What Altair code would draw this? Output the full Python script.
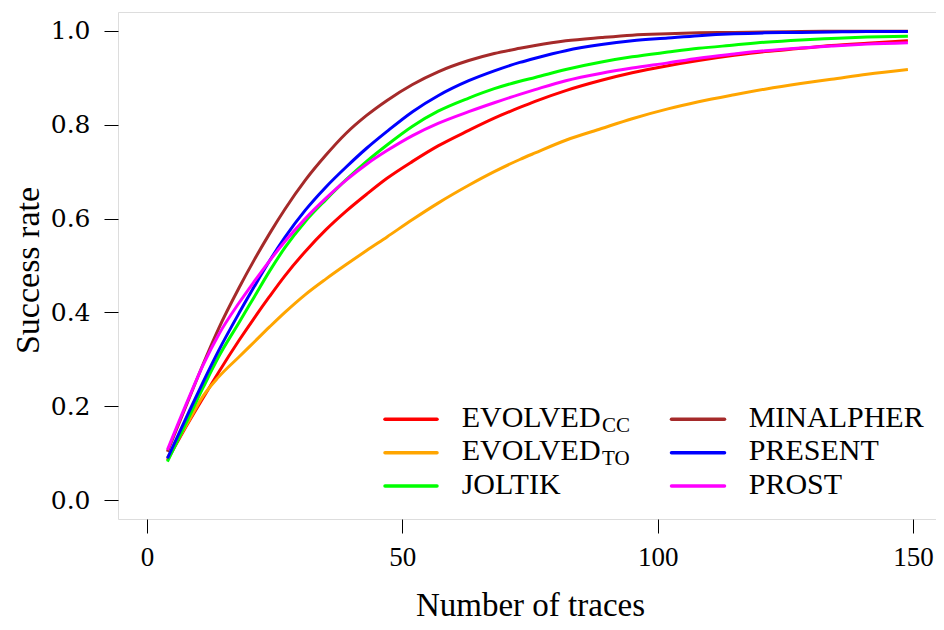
import altair as alt
import pandas as pd

# ---------------- data ----------------
traces = [4, 8, 11, 14, 18, 21, 24, 27, 31, 35, 39, 43, 47, 52, 57, 63, 68, 73,
          76, 82, 89, 95, 102, 108, 115, 121, 128, 134, 141, 149]

evolved_cc = [0.085, 0.163, 0.218, 0.272, 0.340, 0.388, 0.434, 0.478, 0.530, 0.576,
              0.616, 0.652, 0.686, 0.722, 0.755, 0.788, 0.814, 0.837, 0.850, 0.873,
              0.895, 0.911, 0.926, 0.937, 0.948, 0.956, 0.963, 0.969, 0.974, 0.979]
evolved_to = [0.090, 0.165, 0.222, 0.262, 0.305, 0.337, 0.369, 0.400, 0.438, 0.471,
              0.502, 0.532, 0.561, 0.598, 0.633, 0.671, 0.700, 0.726, 0.740, 0.767,
              0.792, 0.813, 0.834, 0.849, 0.864, 0.876, 0.888, 0.897, 0.908, 0.918]
joltik = [0.082, 0.172, 0.240, 0.305, 0.378, 0.433, 0.488, 0.538, 0.594, 0.640,
          0.683, 0.722, 0.757, 0.797, 0.829, 0.857, 0.877, 0.893, 0.901, 0.918,
          0.934, 0.945, 0.955, 0.963, 0.970, 0.976, 0.981, 0.984, 0.987, 0.989]
minalpher = [0.103, 0.210, 0.290, 0.365, 0.452, 0.512, 0.568, 0.620, 0.682, 0.735,
             0.782, 0.820, 0.852, 0.886, 0.913, 0.937, 0.952, 0.963, 0.969, 0.979,
             0.986, 0.991, 0.994, 0.996, 0.997, 0.998, 0.999, 0.9995, 0.9995, 0.9995]
present = [0.089, 0.183, 0.252, 0.318, 0.398, 0.455, 0.510, 0.560, 0.618, 0.667,
           0.710, 0.750, 0.786, 0.828, 0.862, 0.894, 0.915, 0.933, 0.942, 0.958,
           0.971, 0.979, 0.985, 0.990, 0.994, 0.996, 0.997, 0.998, 0.999, 0.999]
prost = [0.107, 0.213, 0.288, 0.352, 0.420, 0.466, 0.510, 0.551, 0.600, 0.643,
         0.682, 0.716, 0.745, 0.777, 0.803, 0.828, 0.847, 0.865, 0.875, 0.894,
         0.910, 0.921, 0.932, 0.942, 0.951, 0.958, 0.964, 0.968, 0.972, 0.975]

series_keys = ["EVOLVED_CC", "EVOLVED_TO", "JOLTIK", "MINALPHER", "PRESENT", "PROST"]
series_vals = [evolved_cc, evolved_to, joltik, minalpher, present, prost]
series_colors = ["#FF0000", "#FFA500", "#00FF00", "#A52A2A", "#0000FF", "#FF00FF"]

# legend text: main label and subscript
legend_main = ["EVOLVED", "EVOLVED", "JOLTIK", "MINALPHER", "PRESENT", "PROST"]
legend_sub = ["CC", "TO", "", "", "", ""]

x_ticks = [0, 50, 100, 150]
y_ticks = [0.0, 0.2, 0.4, 0.6, 0.8, 1.0]

rows = []
for key, vals in zip(series_keys, series_vals):
    for t, v in zip(traces, vals):
        rows.append({"series": key, "traces": t, "rate": v})
df = pd.DataFrame(rows)

# ---------------- layout ----------------
W, H = 818, 507
SERIF = "Liberation Serif"

x_scale = alt.Scale(domain=[-5.68, 154.5], nice=False, zero=False)
y_scale = alt.Scale(domain=[-0.0405, 1.0405], nice=False, zero=False)

lines = alt.Chart(df).mark_line(strokeWidth=3, interpolate="monotone", clip=True).encode(
    x=alt.X("traces:Q", scale=x_scale,
            axis=alt.Axis(values=x_ticks, format="d", title="Number of traces",
                          domain=False, ticks=True, tickSize=14, tickColor="#000",
                          tickWidth=1, labelFont=SERIF, labelFontSize=27,
                          labelColor="#000", labelPadding=11, grid=False,
                          titleFont=SERIF, titleFontSize=33, titleFontWeight="normal",
                          titleColor="#000", titleX=412, titleY=96,
                          titleBaseline="alphabetic", titleAlign="center")),
    y=alt.Y("rate:Q", scale=y_scale,
            axis=alt.Axis(values=y_ticks, format=".1f", title="Success rate",
                          domain=False, ticks=True, tickSize=14, tickColor="#000",
                          tickWidth=1, labelFont="DejaVu Serif", labelFontSize=25,
                          labelColor="#000", labelPadding=14, grid=False,
                          titleFont=SERIF, titleFontSize=34, titleFontWeight="normal",
                          titleColor="#000", titleX=-80, titleY=258,
                          titleAngle=270, titleBaseline="alphabetic", titleAlign="center")),
    color=alt.Color("series:N", scale=alt.Scale(domain=series_keys, range=series_colors),
                    legend=None),
)

# ---------------- hand-built legend (for subscripts) ----------------
dummy = pd.DataFrame({"a": [0]})
col_line_x = [(267, 319), (553.5, 606.5)]
col_text_x = [343.7, 630.7]
row_y = [407.3, 440.7, 474.0]
sub_x = 484.0

layers = [lines]
for i, (key, col) in enumerate(zip(series_keys, series_colors)):
    c, r = divmod(i, 3)
    y = row_y[r]
    layers.append(alt.Chart(dummy).mark_rule(color=col, strokeWidth=3.5, strokeCap="round").encode(
        x=alt.value(col_line_x[c][0]), x2=alt.value(col_line_x[c][1]), y=alt.value(y)))
    layers.append(alt.Chart(dummy).mark_text(
        text=legend_main[i], font=SERIF, fontSize=30, align="left", baseline="alphabetic",
        color="#000").encode(x=alt.value(col_text_x[c]), y=alt.value(y + 7.5)))
    if legend_sub[i]:
        layers.append(alt.Chart(dummy).mark_text(
            text=legend_sub[i], font=SERIF, fontSize=21, align="left", baseline="alphabetic",
            color="#000").encode(x=alt.value(sub_x), y=alt.value(y + 12.5)))

chart = alt.layer(*layers).properties(
    width=W, height=H,
    autosize=alt.AutoSizeParams(type="none"),
    padding={"left": 110, "top": 4, "right": 0, "bottom": 103},
).configure_view(stroke="#000", strokeWidth=1.3).configure(background="#ffffff")

chart.save("out.html", embed_options={"renderer": "svg", "actions": False})
